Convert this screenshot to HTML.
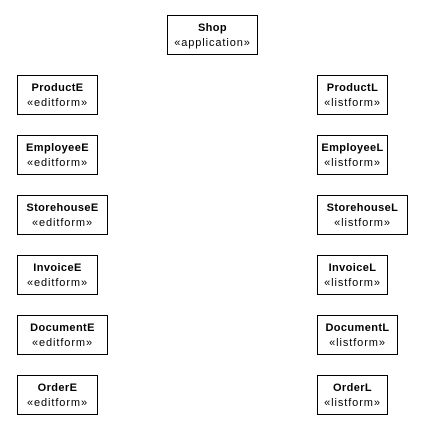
<!DOCTYPE html>
<html><head><meta charset="utf-8"><style>
html,body{margin:0;padding:0;background:#fff;width:429px;height:431px;overflow:hidden;position:relative;}
.n{position:absolute;box-sizing:border-box;border:1px solid #000;background:#fff;height:40px;
font-family:"Liberation Sans",Arial,sans-serif;font-size:11px;line-height:15px;text-align:center;color:#000;padding-top:5px;white-space:nowrap;letter-spacing:0.9px;}
.n b{display:block;letter-spacing:0.4px;}
</style></head><body>
<div class="n" style="left:167px;top:15px;width:91px"><b>Shop</b>«application»</div>

<div class="n" style="left:17px;top:75px;width:81px"><b>ProductE</b>«editform»</div>
<div class="n" style="left:17px;top:135px;width:81px"><b>EmployeeE</b>«editform»</div>
<div class="n" style="left:17px;top:195px;width:91px"><b>StorehouseE</b>«editform»</div>
<div class="n" style="left:17px;top:255px;width:81px"><b>InvoiceE</b>«editform»</div>
<div class="n" style="left:17px;top:315px;width:91px"><b>DocumentE</b>«editform»</div>
<div class="n" style="left:17px;top:375px;width:81px"><b>OrderE</b>«editform»</div>

<div class="n" style="left:317px;top:75px;width:71px"><b>ProductL</b>«listform»</div>
<div class="n" style="left:317px;top:135px;width:71px"><b>EmployeeL</b>«listform»</div>
<div class="n" style="left:317px;top:195px;width:91px"><b>StorehouseL</b>«listform»</div>
<div class="n" style="left:317px;top:255px;width:71px"><b>InvoiceL</b>«listform»</div>
<div class="n" style="left:317px;top:315px;width:81px"><b>DocumentL</b>«listform»</div>
<div class="n" style="left:317px;top:375px;width:71px"><b>OrderL</b>«listform»</div>
</body></html>
